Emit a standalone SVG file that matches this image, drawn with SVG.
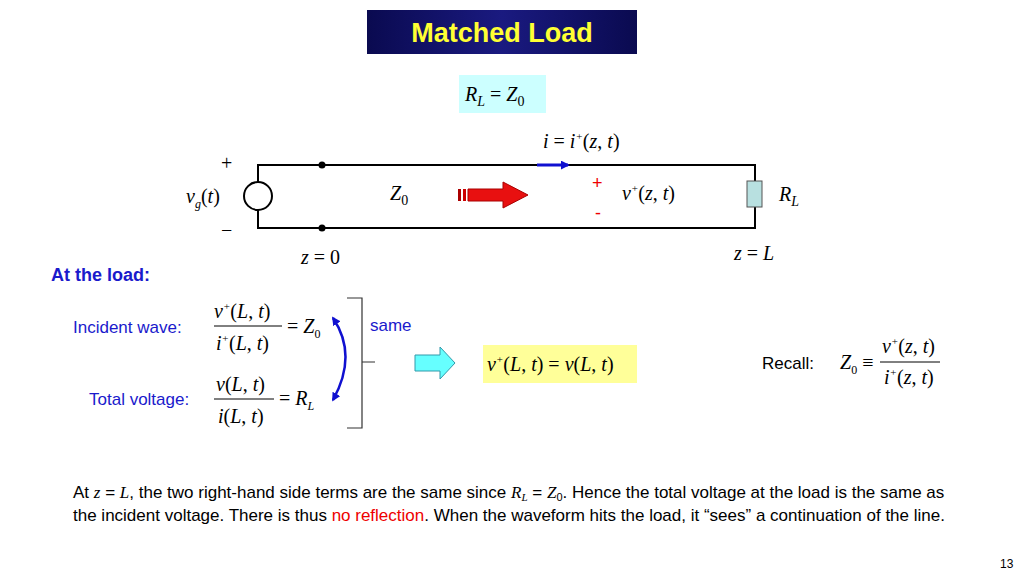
<svg xmlns="http://www.w3.org/2000/svg" width="1024" height="576" viewBox="0 0 1024 576">
<defs>
<linearGradient id="tg" x1="0" y1="0" x2="1" y2="0"><stop offset="0" stop-color="#0a0a50"/><stop offset="0.5" stop-color="#1a1a80"/><stop offset="1" stop-color="#0a0a50"/></linearGradient>
<marker id="ba" viewBox="0 0 10 10" refX="8" refY="5" markerWidth="3" markerHeight="3" orient="auto"><path d="M0,0L10,5L0,10z" fill="#1010d0"/></marker>
<marker id="bs" viewBox="0 0 10 10" refX="8" refY="5" markerWidth="3.5" markerHeight="3.5" orient="auto-start-reverse"><path d="M0,0L10,5L0,10z" fill="#1010d0"/></marker>
<style>
.m{font-family:"Liberation Serif",serif;font-style:italic;font-size:20px;fill:#000}
.n{font-family:"Liberation Serif",serif;font-size:20px;fill:#000}
.s{font-family:"Liberation Sans",sans-serif;font-size:17px}
.b{fill:#1a1acc}
.w{stroke:#000;stroke-width:2;fill:none}
</style>
</defs>
<rect width="1024" height="576" fill="#fff"/>
<g id="title"><rect x="367" y="10" width="270" height="44" fill="url(#tg)"/><text x="502" y="42" text-anchor="middle" font-family="Liberation Sans,sans-serif" font-weight="bold" font-size="27" fill="#ffff33">Matched Load</text></g>
<g id="cond"><rect x="459" y="75" width="87" height="38" fill="#ccffff"/><text class="m" x="465" y="101" font-size="24">R<tspan font-size="14" dy="5">L</tspan><tspan class="n" dy="-5" font-style="normal"> = </tspan>Z<tspan font-size="14" dy="5" font-style="normal">0</tspan></text></g>
<g id="circuit">
<path class="w" d="M258,182V165H755V181M755,207V228H258V210"/>
<circle cx="258" cy="196" r="14" class="w"/>
<circle cx="322" cy="165" r="3.5"/><circle cx="322" cy="228" r="3.5"/>
<rect x="747" y="181" width="15" height="26" fill="#b8e0e0" stroke="#555"/>
<line x1="537" y1="165" x2="568" y2="165" stroke="#1010d0" stroke-width="3" marker-end="url(#ba)"/>
<g><rect x="458" y="189" width="3" height="12" fill="#a00"/><rect x="463" y="189" width="3" height="12" fill="#c00"/><path d="M468,189H503V182L528,195L503,208V201H468z" fill="#e81010" stroke="#a00" stroke-width="1"/></g>
<text class="n" x="221" y="170">+</text><text class="n" x="221" y="237">−</text>
<text class="m" x="186" y="203">v<tspan font-size="12" dy="5">g</tspan><tspan dy="-5" font-style="normal">(</tspan>t<tspan font-style="normal">)</tspan></text>
<text class="m" x="390" y="200" font-size="24">Z<tspan font-size="14" dy="5" font-style="normal">0</tspan></text>
<text x="592" y="189" font-family="Liberation Sans,sans-serif" font-size="18" fill="#e00">+</text>
<text x="595" y="219" font-family="Liberation Sans,sans-serif" font-size="18" fill="#e00">-</text>
<text class="m" x="622" y="200">v<tspan font-size="11" dy="-8">+</tspan><tspan dy="8" font-style="normal">(</tspan>z<tspan font-style="normal">, </tspan>t<tspan font-style="normal">)</tspan></text>
<text class="m" x="779" y="201" font-size="24">R<tspan font-size="14" dy="5">L</tspan></text>
<text class="m" x="301" y="264">z <tspan font-style="normal">= 0</tspan></text>
<text class="m" x="734" y="260">z <tspan font-style="normal">= </tspan>L</text>
<text class="m" x="543" y="148">i <tspan font-style="normal">= </tspan>i<tspan font-size="11" dy="-8">+</tspan><tspan dy="8" font-style="normal">(</tspan>z<tspan font-style="normal">, </tspan>t<tspan font-style="normal">)</tspan></text>
</g>
<text x="51" y="281" font-family="Liberation Sans,sans-serif" font-weight="bold" font-size="18" fill="#1a1acc">At the load:</text>
<g id="eq1">
<text class="s b" x="73" y="333">Incident wave:</text>
<text class="m" x="214" y="318">v<tspan font-size="11" dy="-8">+</tspan><tspan dy="8" font-style="normal">(</tspan>L<tspan font-style="normal">, </tspan>t<tspan font-style="normal">)</tspan></text>
<line x1="214" y1="326" x2="282" y2="326" stroke="#000"/>
<text class="m" x="216" y="350">i<tspan font-size="11" dy="-8">+</tspan><tspan dy="8" font-style="normal">(</tspan>L<tspan font-style="normal">, </tspan>t<tspan font-style="normal">)</tspan></text>
<text class="m" x="287" y="333"><tspan font-style="normal">= </tspan>Z<tspan font-size="12" dy="5" font-style="normal">0</tspan></text>
</g>
<g id="eq2">
<text class="s b" x="89" y="405">Total voltage:</text>
<text class="m" x="216" y="391">v<tspan font-style="normal">(</tspan>L<tspan font-style="normal">, </tspan>t<tspan font-style="normal">)</tspan></text>
<line x1="214" y1="399" x2="274" y2="399" stroke="#000"/>
<text class="m" x="218" y="423">i<tspan font-style="normal">(</tspan>L<tspan font-style="normal">, </tspan>t<tspan font-style="normal">)</tspan></text>
<text class="m" x="279" y="405"><tspan font-style="normal">= </tspan>R<tspan font-size="12" dy="5">L</tspan></text>
</g>
<g id="connectors">
<path d="M333,318Q358,355 333,400" fill="none" stroke="#1010d0" stroke-width="2.5" marker-start="url(#bs)" marker-end="url(#bs)"/>
<path d="M347,298H362V362H375M362,362V428H347" fill="none" stroke="#333" stroke-width="1.2"/>
<path d="M415,355H440V347L455,363L440,379V371H415z" fill="#66ffff" stroke="#3399aa"/>
</g>
<text class="s b" x="370" y="331">same</text>
<g id="result"><rect x="483" y="345" width="154" height="38" fill="#ffff99"/><text class="m" x="487" y="371">v<tspan font-size="11" dy="-8">+</tspan><tspan dy="8" font-style="normal">(</tspan>L<tspan font-style="normal">, </tspan>t<tspan font-style="normal">) = </tspan>v<tspan font-style="normal">(</tspan>L<tspan font-style="normal">, </tspan>t<tspan font-style="normal">)</tspan></text></g>
<g id="recall">
<text class="s" x="762" y="369" fill="#000">Recall:</text>
<text class="m" x="840" y="369">Z<tspan font-size="12" dy="5" font-style="normal">0</tspan><tspan font-style="normal" dy="-5"> ≡</tspan></text>
<text class="m" x="882" y="353">v<tspan font-size="11" dy="-8">+</tspan><tspan dy="8" font-style="normal">(</tspan>z<tspan font-style="normal">, </tspan>t<tspan font-style="normal">)</tspan></text>
<line x1="880" y1="362" x2="940" y2="362" stroke="#000"/>
<text class="m" x="884" y="384">i<tspan font-size="11" dy="-8">+</tspan><tspan dy="8" font-style="normal">(</tspan>z<tspan font-style="normal">, </tspan>t<tspan font-style="normal">)</tspan></text>
</g>
<text x="73" y="498" font-family="Liberation Sans,sans-serif" font-size="17">At <tspan font-family="Liberation Serif,serif" font-style="italic">z</tspan> = <tspan font-family="Liberation Serif,serif" font-style="italic">L</tspan>, the two right-hand side terms are the same since <tspan font-family="Liberation Serif,serif" font-style="italic">R<tspan font-size="11" dy="3">L</tspan></tspan><tspan dy="-3"> = </tspan><tspan font-family="Liberation Serif,serif" font-style="italic">Z</tspan><tspan font-size="11" dy="3">0</tspan><tspan dy="-3">. Hence the total voltage at the load is the same as</tspan></text>
<text x="73" y="521" font-family="Liberation Sans,sans-serif" font-size="17">the incident voltage. There is thus <tspan fill="#e00">no reflection</tspan>. When the waveform hits the load, it “sees” a continuation of the line.</text>
<text x="1000" y="568" font-family="Liberation Sans,sans-serif" font-size="12">13</text>
</svg>
